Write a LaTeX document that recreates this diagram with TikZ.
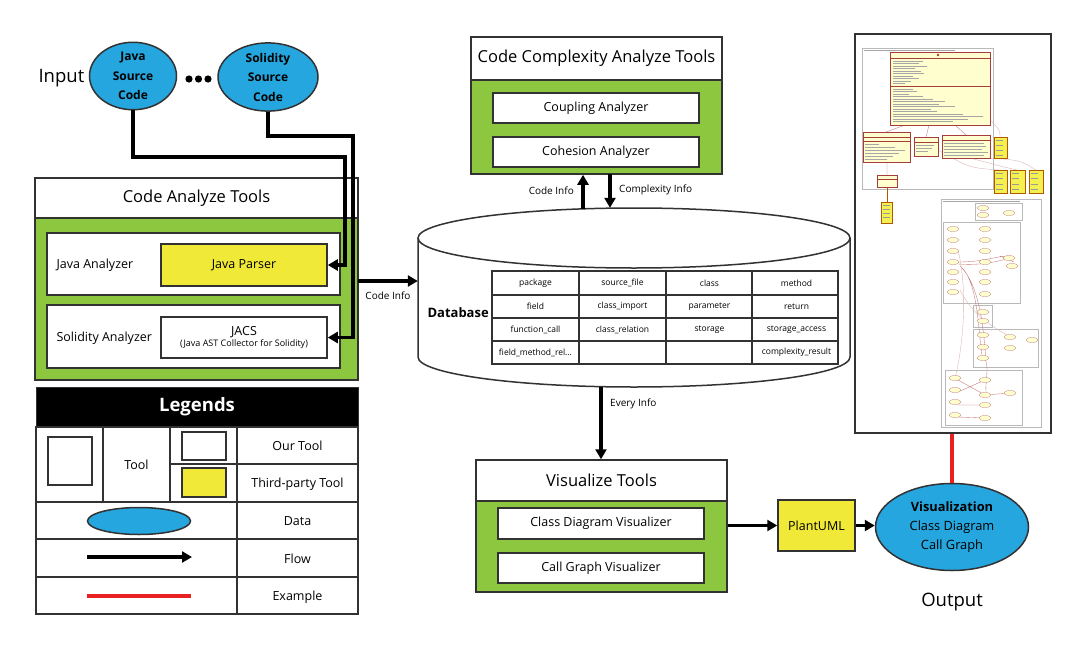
\documentclass[tikz,border=0pt]{standalone}
\usepackage{fontspec}
\setmainfont{Open Sans}
\usetikzlibrary{arrows.meta,shapes.geometric,calc}
\definecolor{tgreen}{RGB}{141,198,63}
\definecolor{tyellow}{RGB}{240,233,56}
\definecolor{tblue}{RGB}{38,166,222}
\definecolor{tline}{RGB}{50,50,50}
\definecolor{tred}{RGB}{232,32,32}
\definecolor{umlfill}{RGB}{254,254,206}
\definecolor{umlline}{RGB}{168,60,60}
\definecolor{notefill}{RGB}{244,240,80}
\newcommand{\fsz}[2]{\fontsize{#1}{#2}\selectfont}
\begin{document}
\begin{tikzpicture}[x=1pt,y=-1pt,
  box/.style={draw=tline, line width=1.5pt, rectangle, inner sep=0pt, fill=white},
  head/.style={box, font=\fsz{16.5}{20}},
  body/.style={box, fill=tgreen},
  tool/.style={box, font=\fsz{12.5}{15}},
  third/.style={box, fill=tyellow, font=\fsz{12.5}{15}},
  data/.style={draw=tline, line width=1.5pt, ellipse, fill=tblue, inner sep=0pt, align=center},
  flow/.style={line width=3.2pt, draw=black, -{Triangle[length=10pt,width=11pt]}},
  example/.style={line width=3.2pt, draw=tred},
  lbl/.style={font=\fsz{10}{12}, inner sep=1pt},
  cell/.style={font=\fsz{8.5}{10}, inner sep=0pt},
  mini/.style={draw=umlline, line width=0.3pt, fill=umlfill},
  note/.style={draw=orange!70!black, line width=0.3pt, fill=notefill},
  pkg/.style={draw=gray!55, line width=0.4pt},
  txl/.style={draw=gray!70, line width=0.3pt},
  uc/.style={draw=umlline!80, line width=0.25pt, fill=umlfill, ellipse, minimum width=12pt, minimum height=5pt, inner sep=0pt},
  rel/.style={draw=umlline!70, line width=0.35pt}
]
\useasboundingbox (0,0) rectangle (1085,651);

% ---------------- Input ----------------
\node[font=\fsz{18.5}{22}, anchor=west] (input) at (35,78) {Input};
\node[data, minimum width=87pt, minimum height=64pt, font=\bfseries\fsz{12}{19.5}] (js) at (133,76) {Java\\Source\\Code};
\node[data, minimum width=100pt, minimum height=63pt, font=\bfseries\fsz{12}{19.5}] (ss) at (268,77) {Solidity\\Source\\Code};
\foreach \dx [count=\i] in {189,198.5,208}{
  \fill (\dx,79) circle (3.6pt);
}

% ---------------- Code Analyze Tools ----------------
\node[head, minimum width=323pt, minimum height=40pt] (cathead) at (196.5,198) {Code Analyze Tools};
\node[body, minimum width=323pt, minimum height=162pt] (catbody) at (196.5,299) {};
\node[box, minimum width=293pt, minimum height=62pt] (javaan) at (193.5,264) {};
\node[font=\fsz{12.5}{15}, anchor=west] (javaanl) at (53,265) {Java Analyzer};
\node[third, minimum width=166pt, minimum height=42pt] (jp) at (244,265) {Java Parser};
\node[box, minimum width=293pt, minimum height=63pt] (solan) at (193.5,336.5) {};
\node[font=\fsz{12.5}{15}, anchor=west] (solanl) at (53,338) {Solidity Analyzer};
\node[box, minimum width=166pt, minimum height=41pt, align=center] (jacs) at (244,337.5)
  {{\fsz{12.5}{15}JACS}\\[-1pt]{\fsz{9}{11}(Java AST Collector for Solidity)}};

\coordinate (j1) at (345,157);
\coordinate (s1) at (353,136);
\draw[flow] (js.south) |- (j1) |- (jp.east);
\draw[flow] (ss.south) |- (s1) |- (jacs.east);

% ---------------- Legends ----------------
\node[draw=tline, line width=1pt, fill=black, text=white, font=\bfseries\fsz{18.5}{22}, minimum width=322pt, minimum height=40pt, inner sep=0pt] (leghead) at (197,407) {Legends};
\draw[tline, line width=1.2pt] (36,427) rectangle (358,614);
\draw[tline, line width=1.2pt] (36,502) -- (358,502) (36,539) -- (358,539) (36,577) -- (358,577)
  (170,464) -- (358,464) (237,427) -- (237,614) (103,427) -- (103,502) (170,427) -- (170,502);
\node[box, minimum width=44pt, minimum height=48pt] (lgtool) at (70,461) {};
\node[box, minimum width=44pt, minimum height=28pt] (lgour) at (204,446) {};
\node[box, fill=tyellow, minimum width=44pt, minimum height=29pt] (lgthird) at (204,482.5) {};
\node[data, minimum width=103pt, minimum height=27pt] (lgdata) at (139,521) {};
\coordinate (lgf1) at (87,557);
\coordinate (lgf2) at (192,557);
\draw[flow] (lgf1) -- (lgf2);
\coordinate (lge1) at (87,596);
\coordinate (lge2) at (191,596);
\draw[example] (lge1) -- (lge2);
\node[font=\fsz{12.5}{15}] (ltool) at (136.5,465) {Tool};
\node[font=\fsz{12.5}{15}] (lour) at (297.5,446) {Our Tool};
\node[font=\fsz{12.5}{15}] (lthird) at (297.5,484) {Third-party Tool};
\node[font=\fsz{12.5}{15}] (ldata) at (297.5,521) {Data};
\node[font=\fsz{12.5}{15}] (lflow) at (297.5,559) {Flow};
\node[font=\fsz{12.5}{15}] (lex) at (297.5,597) {Example};

% ---------------- Code Complexity Analyze Tools ----------------
\node[head, minimum width=251pt, minimum height=43pt] (ccthead) at (596.5,58.5) {Code Complexity Analyze Tools};
\node[body, minimum width=251pt, minimum height=94pt] (cctbody) at (596.5,127) {};
\node[tool, minimum width=206pt, minimum height=30pt] (coup) at (596,108) {Coupling Analyzer};
\node[tool, minimum width=206pt, minimum height=30pt] (cohe) at (596,152) {Cohesion Analyzer};

% ---------------- Database ----------------
\node[minimum width=432pt, minimum height=179pt, inner sep=0pt] (db) at (634,297.5) {};
\draw[tline, line width=1.5pt, fill=white]
  (418,238) -- (418,357) .. controls (418,373.6) and (514.7,387) .. (634,387)
  .. controls (753.3,387) and (850,373.6) .. (850,357) -- (850,238);
\draw[tline, line width=1.5pt, fill=white] (634,238) ellipse [x radius=216, y radius=30];
\node[font=\bfseries\fsz{13}{15}, anchor=west] (dbl) at (424,313) {Database};
\draw[tline, line width=1.2pt] (492,271) rectangle (838,364);
\foreach \yy in {295,318,341}{\draw[tline, line width=1.2pt] (492,\yy) -- (838,\yy);}
\foreach \xx in {579,666,752}{\draw[tline, line width=1.2pt] (\xx,271) -- (\xx,364);}
\foreach \t [count=\i from 0] in {package,source\_file,class,method}{
  \node[cell] (ta\i) at ({535.5+\i*87},283) {\t};}
\foreach \t [count=\i from 0] in {field,class\_import,parameter,return}{
  \node[cell] (tb\i) at ({535.5+\i*87},306.5) {\t};}
\foreach \t [count=\i from 0] in {function\_call,class\_relation,storage,storage\_access}{
  \node[cell] (tc\i) at ({535.5+\i*87},329.5) {\t};}
\node[cell] (td0) at (535.5,352.5) {field\_method\_rel...};
\node[cell] (td3) at (796.5,352.5) {complexity\_result};

% arrows around database
\coordinate (ci) at (358,281);
\draw[flow] (ci) -- (ci -| db.west);
\node[lbl] (cil) at (388,296) {Code Info};
\coordinate (cu) at (583,209);
\draw[flow] (cu) -- (cu |- cctbody.south);
\node[lbl, anchor=east] (cul) at (575,191) {Code Info};
\coordinate (cd) at (610,174);
\draw[flow] (cd) -- (cd |- db.north);
\node[lbl, anchor=west] (cdl) at (618,190) {Complexity Info};
\coordinate (ev) at (601,387);

% ---------------- Visualize Tools ----------------
\node[head, minimum width=251pt, minimum height=41pt] (vishead) at (601.5,480.5) {Visualize Tools};
\node[body, minimum width=251pt, minimum height=91pt] (visbody) at (601.5,546.5) {};
\node[tool, minimum width=206pt, minimum height=31pt] (cdv) at (601,523.5) {Class Diagram Visualizer};
\node[tool, minimum width=206pt, minimum height=30pt] (cgv) at (601,568) {Call Graph Visualizer};
\draw[flow] (ev) -- (ev |- vishead.north);
\node[lbl, anchor=west] (evl) at (609,404) {Every Info};

\node[third, minimum width=77pt, minimum height=51pt] (plant) at (816.5,525.5) {PlantUML};
\draw[flow] (plant.west -| visbody.east) -- (plant.west);

\node[data, minimum width=153pt, minimum height=87pt, font=\fsz{12.8}{19}] (out) at (952,527)
  {\textbf{Visualization}\\Class Diagram\\Call Graph};
\draw[flow] (plant.east) -- (plant.east -| out.west);
\node[font=\fsz{18.5}{22}] (outl) at (952,602) {Output};

% ---------------- Screenshot ----------------
\node[box, line width=1.6pt, minimum width=196pt, minimum height=399pt] (shot) at (953,233.5) {};
\draw[example] (out.north) -- (out.north |- shot.south);

% class diagram part
\draw[pkg] (862,48) rectangle (993,189);
\draw[txl] (864,50) -- (955,50);
\draw[rel] (905,125) -- (886,132) (929,125) -- (926,137) (955,125) -- (966,135) (887,162) -- (887,175);
\draw[orange!70!black, line width=0.4pt] (887,187) -- (887,202);
\draw[rel, umlline!40] (990,120) .. controls (1000,130) .. (1000,137)
  (938,150) .. controls (970,168) .. (1000,170)
  (970,158) .. controls (1000,166) .. (1017,170)
  (985,158) .. controls (1020,160) .. (1036,170);
\filldraw[mini] (890,52) rectangle (990,125);
\draw[umlline, line width=0.3pt] (890,58) -- (990,58) (890,86) -- (990,86);
\fill[umlline] (938,55) circle (1.3pt);
\foreach \yy/\ll in {61/30,63.5/26,66/34,68.5/22,71/28,73.5/31,76/20,78.5/26,81/18,83.5/12}{
  \draw[txl] (893,\yy) -- ({893+\ll},\yy);}
\foreach \yy/\ll in {89/20,91.5/24,94/16,96.5/30,99/40,101.5/52,104/46,106.5/62,109/38,111.5/44,114/70,116.5/90,119/75,121.5/60}{
  \draw[txl] (893,\yy) -- ({893+\ll},\yy);}
\filldraw[mini] (863,132) rectangle (910,162);
\draw[umlline, line width=0.3pt] (863,137) -- (910,137) (863,141) -- (910,141);
\foreach \yy/\ll in {144/14,147/30,150/40,153/34,156/28,159/22}{\draw[txl] (865,\yy) -- ({865+\ll},\yy);}
\filldraw[mini] (914,137) rectangle (938,156);
\draw[umlline, line width=0.3pt] (914,142) -- (938,142);
\foreach \yy/\ll in {145/18,148/16,151/12}{\draw[txl] (916,\yy) -- ({916+\ll},\yy);}
\filldraw[mini] (942,135) rectangle (990,158);
\draw[umlline, line width=0.3pt] (942,140) -- (990,140);
\foreach \yy/\ll in {143/40,146/42,149/38,152/44,155/40}{\draw[txl] (944,\yy) -- ({944+\ll},\yy);}
\filldraw[mini] (877,175) rectangle (897,187);
\draw[umlline, line width=0.3pt] (877,179) -- (897,179);
\filldraw[note] (881,202) rectangle (892,223);
\filldraw[note] (994,137) rectangle (1007,158);
\filldraw[note] (994,170) rectangle (1007,193);
\filldraw[note] (1010,170) rectangle (1025,193);
\filldraw[note] (1029,170) rectangle (1043,193);
\foreach \xx/\yy in {883/205,883/209,883/213,883/217,996/140,996/145,996/150,996/155,996/173,996/178,996/184,996/189,1012/173,1012/178,1012/184,1012/189,1031/173,1031/178,1031/184,1031/189}{
  \draw[gray!80, line width=0.3pt] (\xx,\yy) -- ++(7,0);}

% call graph part
\draw[pkg] (941,199) rectangle (1041,427);
\draw[txl] (943,201) -- (1020,201);
\draw[pkg] (975,203) rectangle (1022,220);
\draw[pkg] (943,222) rectangle (1020,303);
\draw[pkg] (973,305) rectangle (992,327);
\draw[pkg] (973,329) rectangle (1038,367);
\draw[pkg] (945,370) rectangle (1022,425);
\draw[rel] (958,262) .. controls (985,262) and (995,256) .. (1010,256)
  (958,264) .. controls (990,266) and (1000,259) .. (1015,258)
  (1000,256) -- (1014,262)
  (960,266) .. controls (978,280) and (978,330) .. (982,355)
  (962,268) .. controls (982,290) and (984,340) .. (986,360)
  (984,356) .. controls (990,368) and (985,380) .. (986,392)
  (958,380) -- (985,395) (958,392) -- (985,380) (958,405) -- (985,405)
  (958,417) -- (985,418) (985,395) -- (1010,393);
\draw[rel, umlline!40] (958,250) .. controls (970,300) and (960,360) .. (955,378)
  (960,290) .. controls (975,320) and (1000,330) .. (1010,337);
\foreach \xx/\yy in {983/208,983/215,1009/213,
  953/229,953/240,953/251,953/262,953/272,953/282,953/292,
  985/229,985/240,985/251,985/262,985/272,985/282,985/294,1009/258,1012/266,
  983/312,983/321,
  983/335,983/347,983/358,1010/337,1010/348,1032/340,
  955/378,955/390,955/402,955/415,985/380,985/395,985/405,1010/393,985/418}{
  \node[uc] at (\xx,\yy) {};}
\end{tikzpicture}
\end{document}
